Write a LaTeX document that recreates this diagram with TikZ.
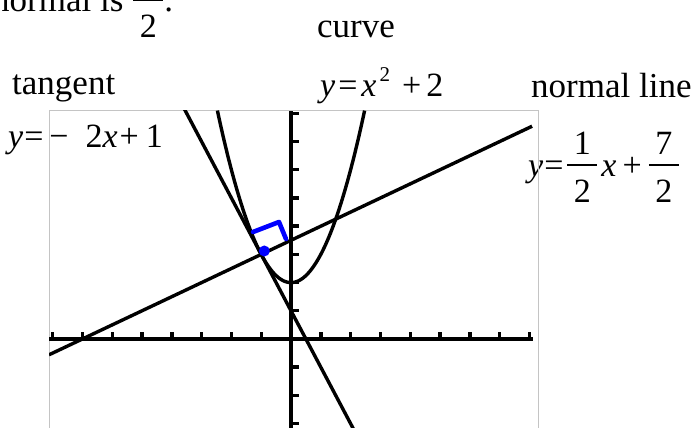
\documentclass[tikz,border=0pt]{standalone}
\usepackage{fontspec}
\setmainfont{Liberation Serif}
\newcommand{\txtsize}{\fontsize{35}{40}\selectfont}
\newcommand{\mathsz}{\fontsize{34}{40}\selectfont}
\newcommand{\vi}[1]{\textit{#1}}
% built fraction: numerator, bar, denominator, 30pt wide
\newcommand{\fr}[2]{\makebox[30pt]{\rlap{\raisebox{22pt}{\makebox[30pt]{#1}}}\rlap{\raisebox{11.3pt}{\rule{30pt}{1.4pt}}}\raisebox{-26pt}{\makebox[30pt]{#2}}}}
\definecolor{framec}{RGB}{196,196,196}
\begin{document}
\begin{tikzpicture}[x=1pt,y=1pt,
  lbl/.style={anchor=base west, inner sep=0pt, font=\txtsize},
  eqn/.style={anchor=base west, inner sep=0pt, font=\mathsz},
  graphline/.style={line width=3.4pt},
  axisline/.style={line width=4.2pt},
  tickmark/.style={line width=3.4pt},
  bluemark/.style={draw=blue, line width=4.6pt, line cap=round, line join=round}]
\useasboundingbox (0,0) rectangle (696,428);
\clip (0,0) rectangle (696,428);

% texts
\node[lbl] (top) at (-8,416) {normal is\kern10pt{\mathsz\fr{1}{2}}\kern1pt.};
\node[lbl] (curve) at (317,390) {curve};
\node[lbl] (tangent) at (12,333) {tangent};
\node[eqn] (curveeq) at (320,331) {\vi{y}\kern3pt=\kern4pt\vi{x}\kern3pt\raisebox{15pt}{\fontsize{21}{24}\selectfont 2}\kern12pt+\kern5pt2};
\node[lbl] (normal) at (531,330) {normal line};
\node[eqn] (tangenteq) at (8,280) {\vi{y}\kern1pt=\kern6pt\char"2212\kern17pt2\vi{x}\kern2pt+\kern7pt1};
\node[eqn] (normaleq) at (528,251) {\vi{y}\kern1pt=\kern4pt\fr{1}{2}\kern4pt\vi{x}\kern6pt+\kern7pt\fr{7}{2}};

% graph window
\begin{scope}[shift={(291pt,89pt)}, x=29.8pt, y=28.2pt]
  \draw[framec, line width=1pt] (-8.12,-4) rectangle (8.29,8.085);
  \begin{scope}
    \clip (-8.12,-3.4) rectangle (8.29,8.085);
    % axes
    \draw[axisline] (-8.12,0) -- (8.12,0);
    \draw[axisline] (0,-3.4) -- (0,8.085);
    \foreach \t in {-8,...,-1,1,2,...,8}
      \draw[tickmark] (\t,0) -- ++(0,7pt);
    \foreach \t in {-3,...,-1,1,2,...,8}
      \draw[tickmark] (0,\t) -- ++(8pt,0);
    % curve y = x^2 + 2
    \draw[graphline] plot[domain=-2.47:2.47, samples=100, smooth] (\x,{\x*\x+2});
    % tangent y = -2x + 1
    \draw[graphline] (-3.6,8.2) -- (2.2,-3.4);
    % normal y = x/2 + 7/2
    \draw[graphline] (-8.12,-0.56) -- (8.09,7.545);
  \end{scope}
\end{scope}

% right-angle mark and point of tangency
\draw[bluemark] (253,196) -- (279,206) -- (286,189);
\fill[blue] (264.3,177) circle (5.5);
\end{tikzpicture}
\end{document}
